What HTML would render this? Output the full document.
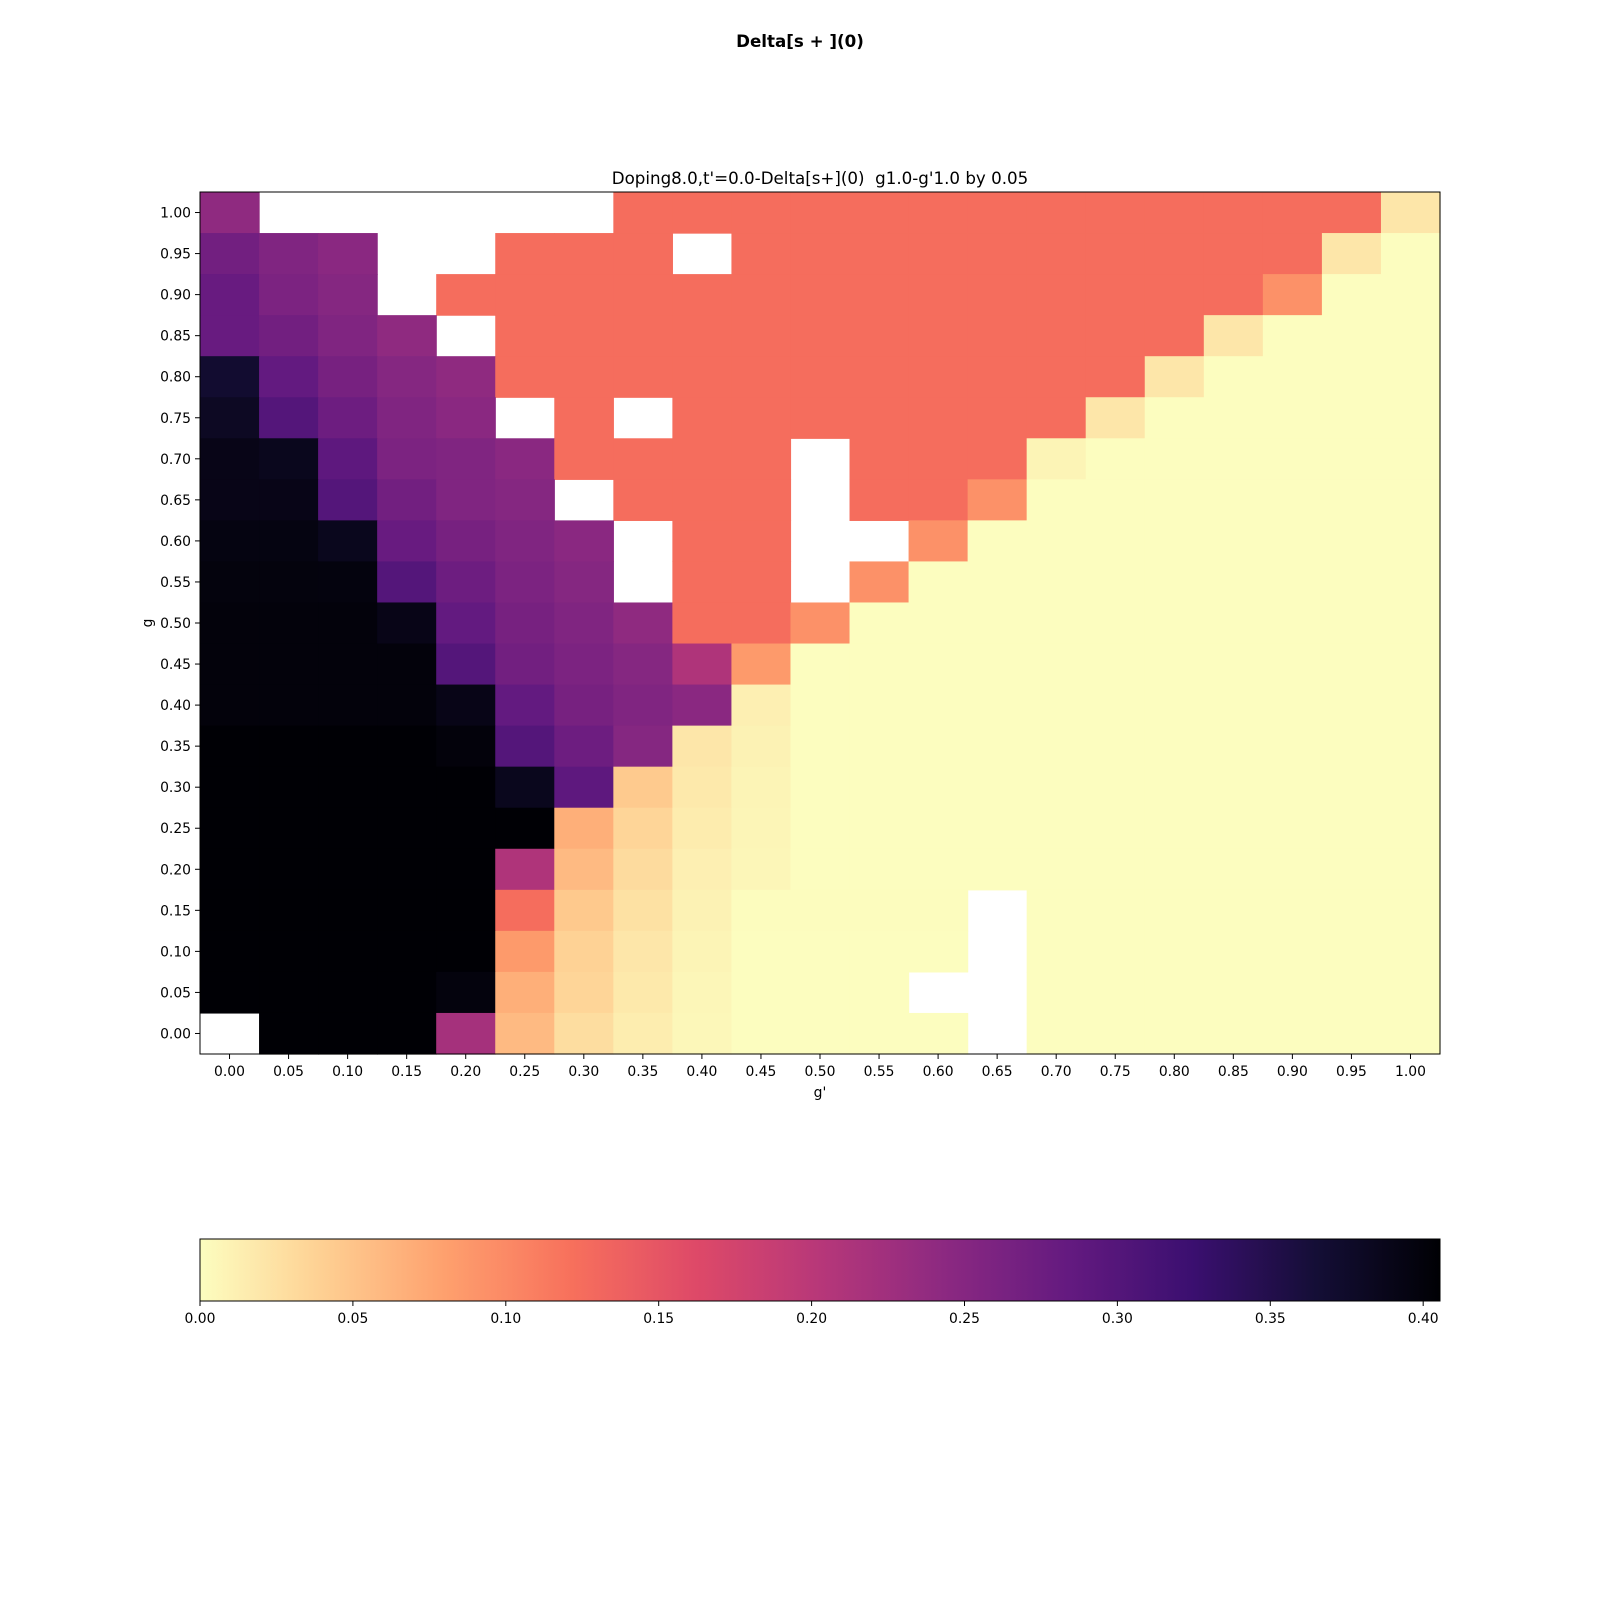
<!DOCTYPE html>
<html><head><meta charset="utf-8"><style>
html,body{margin:0;padding:0;background:#fff;}
svg text{font-family:"DejaVu Sans","Liberation Sans",sans-serif;fill:#000;white-space:pre;}
</style></head><body>
<svg id="fig" width="1600" height="1600" viewBox="0 0 1600 1600" xmlns="http://www.w3.org/2000/svg">
<text x="800" y="47" text-anchor="middle" font-size="16.7" font-weight="bold">Delta[s + ](0)</text>
<text x="820" y="184" text-anchor="middle" font-size="16.7" xml:space="preserve">Doping8.0,t'=0.0-Delta[s+](0)  g1.0-g'1.0 by 0.05</text>
<g id="cells"></g>
<g id="axes"></g>
<text x="820" y="1097" text-anchor="middle" font-size="13.9">g'</text>
<text x="152" y="623" text-anchor="middle" font-size="13.9" transform="rotate(-90 152 623)">g</text>
<g id="cbar"></g>
</svg>
<script>
const xLabels=["0.00","0.05","0.10","0.15","0.20","0.25","0.30","0.35","0.40","0.45","0.50","0.55","0.60","0.65","0.70","0.75","0.80","0.85","0.90","0.95","1.00"];
const yLabels=xLabels.slice();
const cbTicks=[0,0.05,0.10,0.15,0.20,0.25,0.30,0.35,0.40];
const vmax=0.4055;
const N=null;
// rows from g=1.00 (top) to g=0.00 (bottom); columns g'=0.00..1.00
const row100=[0.24,N,N,N,N,N,N,0.125,0.125,0.125,0.125,0.125,0.125,0.125,0.125,0.125,0.125,0.125,0.125,0.125,0.02];
const row095=[0.27,0.255,0.245,N,N,0.125,0.125,0.125,N,0.125,0.125,0.125,0.125,0.125,0.125,0.125,0.125,0.125,0.125,0.02,0];
const row090=[0.28,0.26,0.25,N,0.125,0.125,0.125,0.125,0.125,0.125,0.125,0.125,0.125,0.125,0.125,0.125,0.125,0.125,0.093,0,0];
const row085=[0.28,0.27,0.255,0.24,N,0.125,0.125,0.125,0.125,0.125,0.125,0.125,0.125,0.125,0.125,0.125,0.125,0.02,0,0,0];
const row080=[0.37,0.285,0.265,0.25,0.24,0.125,0.125,0.125,0.125,0.125,0.125,0.125,0.125,0.125,0.125,0.125,0.02,0,0,0,0];
const row075=[0.38,0.30,0.275,0.255,0.245,N,0.125,N,0.125,0.125,0.125,0.125,0.125,0.125,0.125,0.02,0,0,0,0,0];
const row070=[0.39,0.385,0.29,0.26,0.255,0.245,0.125,0.125,0.125,0.125,N,0.125,0.125,0.125,0.008,0,0,0,0,0,0];
const row065=[0.39,0.39,0.30,0.27,0.255,0.25,N,0.125,0.125,0.125,N,0.125,0.125,0.093,0,0,0,0,0,0,0];
const row060=[0.395,0.395,0.385,0.28,0.265,0.255,0.245,N,0.125,0.125,N,N,0.093,0,0,0,0,0,0,0,0];
const row055=[0.398,0.398,0.397,0.30,0.275,0.26,0.25,N,0.125,0.125,N,0.093,0,0,0,0,0,0,0,0,0];
const row050=[0.4,0.4,0.4,0.39,0.285,0.265,0.255,0.24,0.125,0.125,0.093,0,0,0,0,0,0,0,0,0,0];
const row045=[0.4,0.4,0.4,0.4,0.30,0.27,0.26,0.25,0.21,0.085,0,0,0,0,0,0,0,0,0,0,0];
const row040=[0.4,0.4,0.4,0.4,0.39,0.285,0.265,0.255,0.245,0.012,0,0,0,0,0,0,0,0,0,0,0];
const row035=[0.405,0.405,0.405,0.405,0.4,0.30,0.275,0.25,0.02,0.01,0,0,0,0,0,0,0,0,0,0,0];
const row030=[0.405,0.405,0.405,0.405,0.405,0.385,0.29,0.045,0.018,0.008,0,0,0,0,0,0,0,0,0,0,0];
const row025=[0.405,0.405,0.405,0.405,0.405,0.405,0.068,0.035,0.015,0.007,0,0,0,0,0,0,0,0,0,0,0];
const row020=[0.405,0.405,0.405,0.405,0.405,0.21,0.058,0.03,0.012,0.006,0,0,0,0,0,0,0,0,0,0,0];
const row015=[0.405,0.405,0.405,0.405,0.405,0.125,0.046,0.025,0.01,0.001,0.001,0.001,0.001,N,0,0,0,0,0,0,0];
const row010=[0.405,0.405,0.405,0.405,0.405,0.085,0.038,0.02,0.008,0,0,0,0,N,0,0,0,0,0,0,0];
const row005=[0.405,0.405,0.405,0.405,0.398,0.068,0.035,0.018,0.006,0,0,0,N,N,0,0,0,0,0,0,0];
const row000=[N,0.405,0.405,0.405,0.22,0.058,0.028,0.014,0.005,0,0,0,0,N,0,0,0,0,0,0,0];
const grid=[row100,row095,row090,row085,row080,row075,row070,row065,row060,row055,row050,row045,row040,row035,row030,row025,row020,row015,row010,row005,row000];

const L=200,R=1440,T=192,B=1054;
const nx=xLabels.length, ny=yLabels.length;
const cw=(R-L)/nx, ch=(B-T)/ny;
const xPos=i=>L+i*cw;
const yPos=j=>T+j*ch;
const magma=[[0,0,4],[20,14,54],[59,15,112],[100,26,128],[140,41,129],[183,55,121],[222,73,104],[247,112,92],[254,159,109],[254,207,146],[252,253,191]];
function color(v){
  let t=1-Math.max(0,Math.min(1,v/vmax));
  let p=t*10, i=Math.min(9,Math.floor(p)), f=p-i;
  const a=magma[i],b=magma[i+1];
  return 'rgb('+a.map((c,k)=>Math.round(c+(b[k]-c)*f)).join(',')+')';
}
const NS='http://www.w3.org/2000/svg';
function mk(tag,attrs,parent){const e=document.createElementNS(NS,tag);for(const k in attrs)e.setAttribute(k,attrs[k]);parent.appendChild(e);return e;}
const cells=document.getElementById('cells');
grid.forEach((row,j)=>row.forEach((v,i)=>{
  if(v===null)return;
  const r=mk('rect',{x:xPos(i),y:yPos(j),width:cw+0.6,height:ch+0.6,fill:color(v)},cells);
  
  
}));
const ax=document.getElementById('axes');
const frame=mk('rect',{x:L,y:T,width:R-L,height:B-T,fill:'none',stroke:'#000','stroke-width':1},ax);


xLabels.forEach((s,i)=>{
  const x=xPos(i)+cw/2;
  mk('line',{x1:x,x2:x,y1:B,y2:B+5,stroke:'#000'},ax);
  const t=mk('text',{x:x,y:B+22,'text-anchor':'middle','font-size':13.9},ax);t.textContent=s;
  
  
});
yLabels.forEach((s,j)=>{
  const y=yPos(ny-1-j)+ch/2;
  mk('line',{x1:L-5,x2:L,y1:y,y2:y,stroke:'#000'},ax);
  const t=mk('text',{x:L-9,y:y+5,'text-anchor':'end','font-size':13.9},ax);t.textContent=s;
  
  
});
const cb=document.getElementById('cbar');
const CT=1239,CB=1301;
const defs=mk('defs',{},cb);
const lg=mk('linearGradient',{id:'cg',x1:0,x2:1,y1:0,y2:0},defs);
for(let k=0;k<=40;k++){const f=k/40;mk('stop',{offset:f,'stop-color':color(f*vmax)},lg);}
const cbr=mk('rect',{x:L,y:CT,width:R-L,height:CB-CT,fill:'url(#cg)',stroke:'#000','stroke-width':1},cb);


cbTicks.forEach(v=>{
  const x=L+(R-L)*v/vmax;
  mk('line',{x1:x,x2:x,y1:CB,y2:CB+5,stroke:'#000'},cb);
  const t=mk('text',{x:x,y:CB+22,'text-anchor':'middle','font-size':13.9},cb);t.textContent=v.toFixed(2);
  
  
});
</script>
</body></html>
